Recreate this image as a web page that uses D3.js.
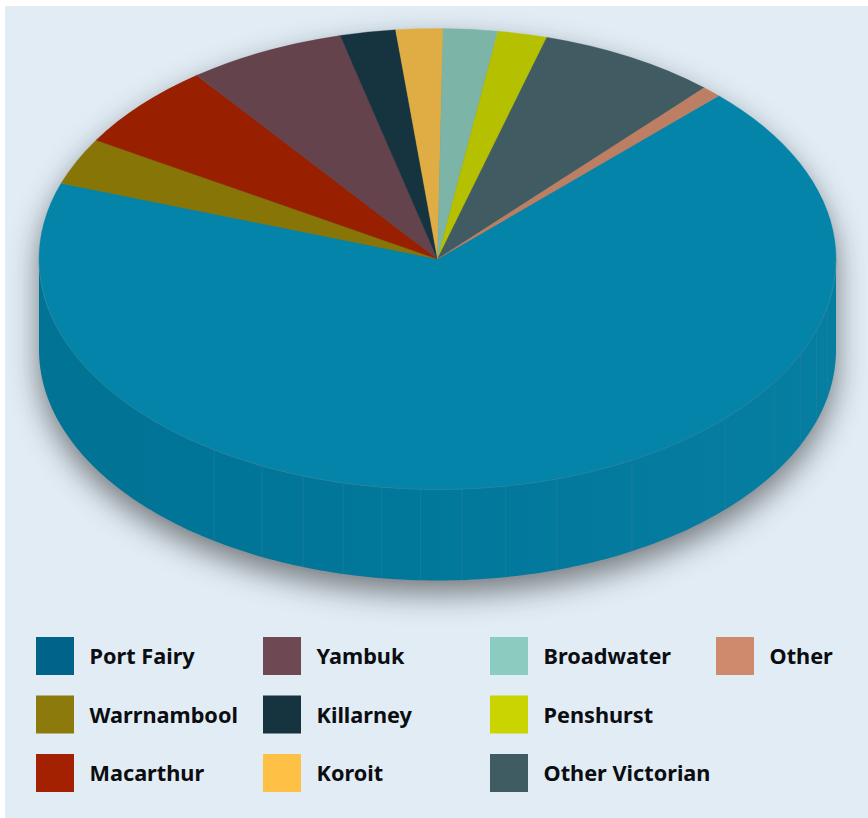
<!DOCTYPE html>
<html>
<head>
<meta charset="utf-8">
<style>
  html, body { margin: 0; padding: 0; background: #fff; }
  svg { display: block; }
  text { font-family: "Noto Sans", "Open Sans", sans-serif; font-weight: 700; fill: #0b0d10; }
</style>
<script src="https://cdn.jsdelivr.net/npm/d3@7/dist/d3.min.js"></script>
</head>
<body>
<svg id="chart" width="868" height="818"></svg>
<script>
// Share of supply by source, in per cent, clockwise from the Port Fairy slice.
const categories = ["Port Fairy", "Warrnambool", "Macarthur", "Yambuk", "Killarney", "Koroit", "Broadwater", "Penshurst", "Other Victorian", "Other"];
const shares = [67.85, 3.3, 6.05, 6.4, 2.25, 1.9, 2.2, 2.0, 7.25, 0.8];
const sliceColors = ["#0584a9", "#877508", "#982000", "#64434c", "#16343f", "#e0ad44", "#7cb5a8", "#b5c000", "#405c62", "#bd7f64"];
const legendColors = ["#006389", "#8d7a0c", "#a32100", "#6e4852", "#16343f", "#ffc046", "#8accc0", "#cad400", "#405c63", "#cf896c"];

// Bearings (degrees clockwise from the top) of the panel joins on the rim wall.
const rimSeams = [214.1, 206.1, 199.7, 193.7, 188.1, 182.45, 176.5, 170.15, 162.6, 150.8, 133.8, 122.3, 114.4, 108, 101.8];

const firstSliceBearing = 44.9;
const legendRows = 3;

const width = 868, height = 818;
const cx = 437.5, cy = 259, rx = 398.5, ry = 230.5, depth = 91;
const rad = d => d * Math.PI / 180;

const svg = d3.select("#chart");
const defs = svg.append("defs");

const shadow = defs.append("filter").attr("id", "soft-shadow")
  .attr("color-interpolation-filters", "sRGB")
  .attr("x", "-15%").attr("y", "-15%").attr("width", "130%").attr("height", "130%");
shadow.append("feGaussianBlur").attr("stdDeviation", 15);

const wallGradient = defs.append("linearGradient").attr("id", "wall")
  .attr("gradientUnits", "userSpaceOnUse")
  .attr("x1", cx - rx).attr("x2", cx + rx).attr("y1", 0).attr("y2", 0);
wallGradient.append("stop").attr("offset", "0%").attr("stop-color", "#017395");
wallGradient.append("stop").attr("offset", "45%").attr("stop-color", "#01779a");
wallGradient.append("stop").attr("offset", "100%").attr("stop-color", "#067ea2");

// Background panel
svg.append("rect").attr("x", 5).attr("y", 6)
  .attr("width", width - 5).attr("height", height - 6).attr("fill", "#e1ecf5");

// Points on the tilted disc: bearing in degrees, clockwise from the top.
const rimX = d3.scaleLinear().domain([-1, 1]).range([cx - rx, cx + rx]);
const rimY = d3.scaleLinear().domain([-1, 1]).range([cy + ry, cy - ry]);
const rimPoint = (bearing, drop = 0) => [rimX(Math.sin(rad(bearing))), rimY(Math.cos(rad(bearing))) + drop];
const line = d3.line();

// Lower half of the wall, walked along the top rim and back along the base.
const sweep = d3.range(90, 270.5, 1);
const wallPoints = sweep.map(b => rimPoint(b)).concat(sweep.slice().reverse().map(b => rimPoint(b, depth)));

// Full outline of the disc and its wall, used for the cast shadow.
const silhouette = d3.range(270, 450.5, 1).map(b => rimPoint(b))
  .concat(sweep.map(b => rimPoint(b, depth)));

svg.append("path").attr("d", line(silhouette) + "Z")
  .attr("fill", "#1c1c1c").attr("fill-opacity", 0.55)
  .attr("transform", "translate(0,13)")
  .attr("filter", "url(#soft-shadow)");

svg.append("path").attr("d", line(wallPoints) + "Z").attr("fill", "url(#wall)");

svg.append("g").selectAll("path").data(rimSeams).join("path")
  .attr("d", b => line([rimPoint(b), rimPoint(b, depth)]))
  .attr("fill", "none").attr("stroke", "#2a7f9b").attr("stroke-width", 1).attr("stroke-opacity", 0.55);

// Top face: circular slices flattened into the ellipse.
const pie = d3.pie().sort(null)
  .startAngle(rad(firstSliceBearing)).endAngle(rad(firstSliceBearing + 360));
const arc = d3.arc().innerRadius(0).outerRadius(rx);

svg.append("g")
  .attr("transform", `translate(${cx},${cy}) scale(1,${ry / rx})`)
  .selectAll("path").data(pie(shares)).join("path")
  .attr("d", arc)
  .attr("fill", (d, i) => sliceColors[i])
  .attr("stroke", (d, i) => sliceColors[i]).attr("stroke-width", 0.4);

// Pale edge where the top face meets the wall.
svg.append("path").attr("d", line(sweep.map(b => rimPoint(b))))
  .attr("fill", "none").attr("stroke", "#3f8aa3").attr("stroke-width", 0.6).attr("stroke-opacity", 0.7);

// Legend, filled column by column.
const col = d3.scaleOrdinal().domain([0, 1, 2, 3]).range([36, 263, 490, 716]);
const row = d3.scaleOrdinal().domain([0, 1, 2]).range([637, 695.5, 754]);
const swatch = 38;

const legend = svg.append("g").selectAll("g").data(categories).join("g")
  .attr("transform", (d, i) => `translate(${col(Math.floor(i / legendRows))},${row(i % legendRows)})`);
legend.append("rect").attr("width", swatch).attr("height", swatch)
  .attr("fill", (d, i) => legendColors[i]);
legend.append("text").attr("x", 53.5).attr("y", 27)
  .attr("font-size", 21.7).text(d => d);
</script>
</body>
</html>
